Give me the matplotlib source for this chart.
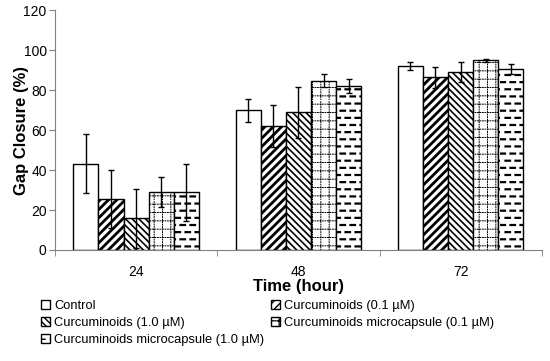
import numpy as np
import matplotlib
matplotlib.use("Agg")
import matplotlib.pyplot as plt
import matplotlib.hatch as mhatch
from matplotlib.path import Path

# data
times = ["24", "48", "72"]
control = [43.2, 69.8, 92.0]
control_err = [14.6, 5.8, 1.9]
cur_01 = [25.5, 62.0, 86.3]
cur_01_err = [14.5, 10.5, 5.3]
cur_10 = [15.8, 68.8, 89.2]
cur_10_err = [14.7, 12.7, 5.0]
mic_01 = [28.8, 84.7, 94.8]
mic_01_err = [7.5, 3.4, 0.8]
mic_10 = [28.8, 82.0, 90.5]
mic_10_err = [14.2, 3.5, 2.3]
labels = ["Control", "Curcuminoids (0.1 µM)", "Curcuminoids (1.0 µM)",
          "Curcuminoids microcapsule (0.1 µM)", "Curcuminoids microcapsule (1.0 µM)"]


# custom hatch: staggered short horizontal dashes ('_')
class DashHatch(mhatch.HatchPatternBase):
    def __init__(self, hatch, density):
        self.rows = hatch.count('_') * 14
        self.per_row = 10
        self.num_vertices = self.rows * self.per_row * 2

    def set_vertices_and_codes(self, vertices, codes):
        i = 0
        for r in range(self.rows):
            y = (r + 0.5) / self.rows
            off = 0.5 if r % 2 else 0.0
            for k in range(self.per_row):
                x0 = (k + off + 0.05) / self.per_row
                x1 = x0 + 0.45 / self.per_row
                vertices[i] = (x0, y)
                vertices[i + 1] = (x1, y)
                codes[i] = Path.MOVETO
                codes[i + 1] = Path.LINETO
                i += 2


# custom hatch: dotted grid (':')
class DotGridHatch(mhatch.HatchPatternBase):
    def __init__(self, hatch, density):
        self.lines = hatch.count(':') * 12
        self.segs = 40
        self.num_vertices = self.lines * self.segs * 2 * 2

    def set_vertices_and_codes(self, vertices, codes):
        i = 0
        for n in range(self.lines):
            c = (n + 0.5) / self.lines
            for s in range(self.segs):
                a = s / self.segs
                b = a + 0.35 / self.segs
                for p0, p1 in (((c, a), (c, b)), ((a, c), (b, c))):
                    vertices[i] = p0
                    vertices[i + 1] = p1
                    codes[i] = Path.MOVETO
                    codes[i + 1] = Path.LINETO
                    i += 2


mhatch._hatch_types.append(DashHatch)
mhatch._hatch_types.append(DotGridHatch)

plt.rcParams['font.family'] = ['Liberation Sans', 'DejaVu Sans']
plt.rcParams['hatch.linewidth'] = 1.0

fig = plt.figure(figsize=(5.5, 3.61), dpi=100)
ax = fig.add_axes([0.1, 0.3075, 0.885, 0.6645])

series = [control, cur_01, cur_10, mic_01, mic_10]
errs = [control_err, cur_01_err, cur_10_err, mic_01_err, mic_10_err]
hatches = ["", "////", "\\\\\\\\\\", ":", "_"]
hatch_lw = [1.0, 2.0, 1.2, 0.7, 1.6]
hatch_col = ["black", "black", "black", "#555555", "black"]

x = np.arange(len(times))
w = 0.155
handles = []
for i, (vals, err, h) in enumerate(zip(series, errs, hatches)):
    pos = x + (i - 2) * w
    bars = ax.bar(pos, vals, width=w, color="white", edgecolor="black",
                  linewidth=1.0, hatch=h, label=labels[i], zorder=2)
    for b in bars:
        if hasattr(b, "set_hatch_linewidth"):
            b.set_hatch_linewidth(hatch_lw[i])
        if hasattr(b, "set_hatchcolor"):
            b.set_hatchcolor(hatch_col[i])
    ax.errorbar(pos, vals, yerr=err, fmt="none", ecolor="black",
                elinewidth=1.0, capsize=2.5, capthick=1.0, zorder=3)
    handles.append(bars)

ax.set_xlim(-0.5, 2.5)
ax.set_ylim(0, 120)
ax.set_yticks(np.arange(0, 121, 20))
ax.set_xticks(x)
ax.set_xticklabels(times, fontsize=10)
ax.set_xticks([-0.5, 0.5, 1.5, 2.5], minor=True)
ax.tick_params(axis="x", which="major", length=0, pad=11)
ax.tick_params(axis="x", which="minor", length=4, color="#808080", direction="out")
ax.tick_params(axis="y", length=4, color="#808080", labelsize=10, pad=2)
for side in ["top", "right"]:
    ax.spines[side].set_visible(False)
for side in ["left", "bottom"]:
    ax.spines[side].set_color("#808080")

ax.set_ylabel("Gap Closure (%)", fontsize=12, fontweight="bold", labelpad=-4)
ax.set_xlabel("Time (hour)", fontsize=12, fontweight="bold", labelpad=0)

order = [0, 2, 4, 1, 3]
fig.legend([handles[k] for k in order], [labels[k] for k in order],
           loc="upper left", bbox_to_anchor=(0.075, 0.17), ncol=2,
           frameon=False, fontsize=9.3, handlelength=0.7, handleheight=0.7,
           handletextpad=0.3, labelspacing=0.4, columnspacing=0.5,
           borderpad=0, borderaxespad=0)

fig.savefig("out.png", dpi=100)
